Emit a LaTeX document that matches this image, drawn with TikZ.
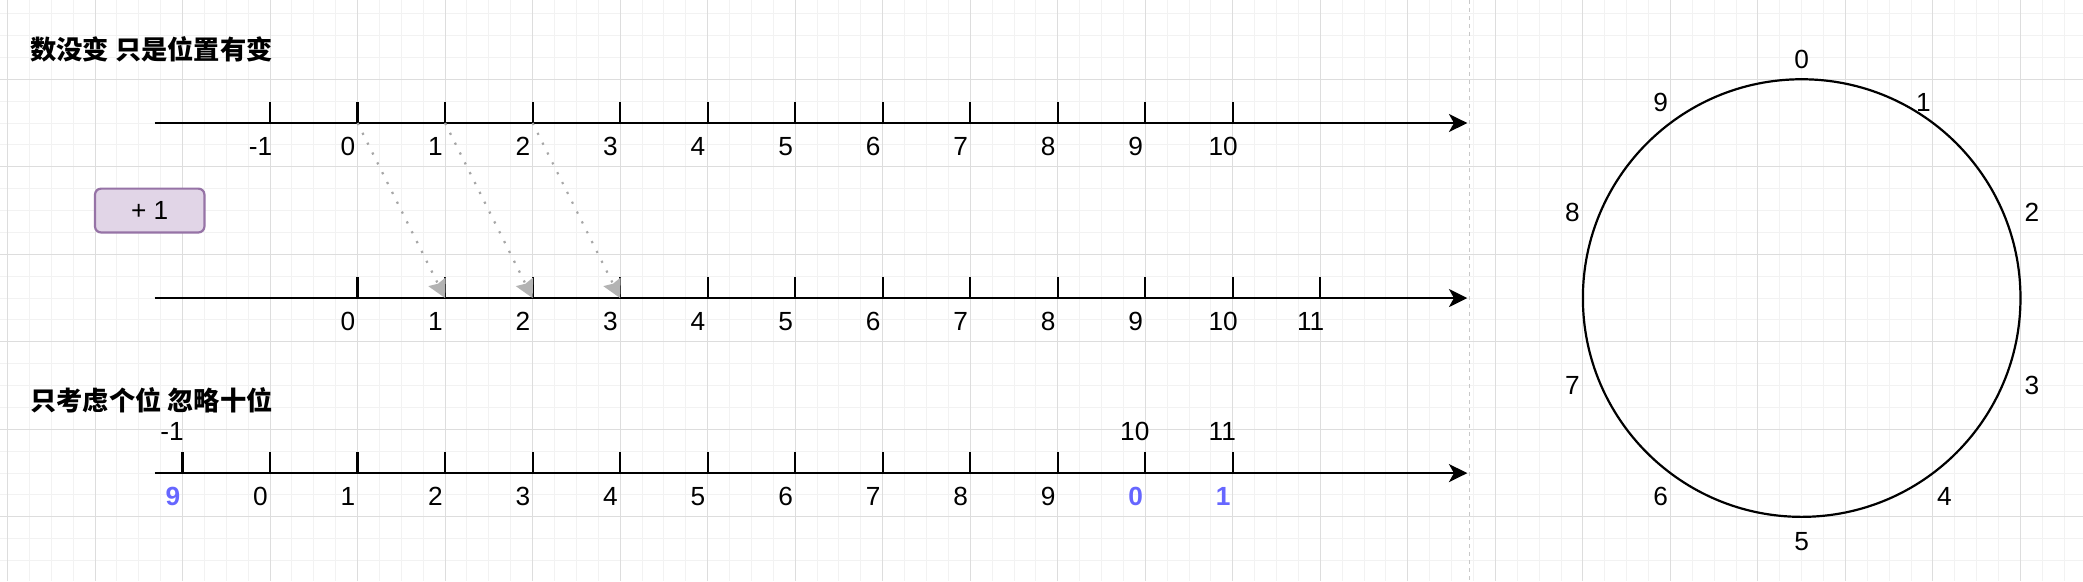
\documentclass[tikz,border=0pt]{standalone}
\usepackage{fontspec}
\setmainfont{Liberation Sans}
\newfontfamily\cjk{Noto Sans CJK SC}
\usetikzlibrary{arrows.meta,positioning,calc}

\definecolor{gridminor}{HTML}{F2F2F2}
\definecolor{gridmajor}{HTML}{DDDDDD}
\definecolor{plusfill}{HTML}{E1D5E7}
\definecolor{plusdraw}{HTML}{9673A6}
\definecolor{carryblue}{HTML}{6666FF}
\definecolor{movegray}{HTML}{A6A6A6}
\definecolor{tipgray}{HTML}{B3B3B3}
\definecolor{sepgray}{HTML}{C8C8C8}

\begin{document}
\begin{tikzpicture}[x=43.75pt,y=43.75pt,
    font=\fontsize{13.125}{15.75}\selectfont,
    numline/.style={line width=1.1pt,-{Stealth[length=9.2pt,width=9pt,inset=2.5pt]}},
    tickmark/.style={line width=1.1pt},
    lbl/.style={inner sep=0pt},
    carry/.style={text=carryblue,font=\fontsize{13.125}{15.75}\selectfont\bfseries},
    title/.style={inner sep=0pt,anchor=west,font=\fontsize{13.125}{15.75}\selectfont\cjk\bfseries},
    plusbox/.style={draw=plusdraw,fill=plusfill,line width=1.1pt,rounded corners=3pt,
                    minimum width=54.7pt,minimum height=21.9pt},
    move/.style={color=movegray,line width=1.1pt,dash pattern=on 1.1pt off 4.4pt,
                 -{Stealth[length=9pt,width=9.5pt,inset=1pt,color=tipgray]}},
    ring/.style={line width=1.1pt},
    divider/.style={draw=sepgray,line width=0.6pt,dash pattern=on 2pt off 2pt}]
  \useasboundingbox (-0.0857,-3.2343) rectangle (23.7143,3.4057);
  \fill[white] (-0.0857,-3.2343) rectangle (23.7143,3.4057);
  % grid
  \foreach \g in {-0.25,0,...,23.75}
    \draw[gridminor,line width=0.5pt] (\g,-3.2343) -- (\g,3.4057);
  \foreach \g in {-3.25,-3,...,3.5}
    \draw[gridminor,line width=0.5pt] (-0.0857,\g) -- (23.7143,\g);
  \foreach \g in {0,...,23}
    \draw[gridmajor,line width=0.5pt] (\g,-3.2343) -- (\g,3.4057);
  \foreach \g in {-2.5,-1.5,...,2.5}
    \draw[gridmajor,line width=0.5pt] (-0.0857,\g) -- (23.7143,\g);
  \coordinate (sep-t) at (16.7,3.4057);
  \coordinate (sep-b) at (16.7,-3.2343);
  \draw[divider] (sep-t) -- (sep-b);

  \node[title] (t_move) at (0.257,2.846) {数没变 只是位置有变};
  \node[title] (t_ones) at (0.257,-1.166) {只考虑个位 忽略十位};
  \node[plusbox] (plus) at (1.625,1) {+ 1};

  % top axis
  \coordinate (top-s) at (1.68,2);
  \coordinate (top-e) at (16.68,2);
  \draw[numline] (top-s) -- (top-e);
  \foreach \n [count=\i from 3] in {-1,...,10} {
    \coordinate (top\i) at (\i,2);
    \draw[tickmark] (top\i) -- ++(0,0.24);
    \node[lbl] (ltop\i) at ($(top\i)+(-0.11,-0.27)$) {\n};
  }
  % middle axis
  \coordinate (mid-s) at (1.68,0);
  \coordinate (mid-e) at (16.68,0);
  \draw[numline] (mid-s) -- (mid-e);
  \foreach \n [count=\i from 4] in {0,...,11} {
    \coordinate (mid\i) at (\i,0);
    \draw[tickmark] (mid\i) -- ++(0,0.24);
    \node[lbl] (lmid\i) at ($(mid\i)+(-0.11,-0.27)$) {\n};
  }
  \path[move]
    (top4) edge (mid5)
    (top5) edge (mid6)
    (top6) edge (mid7);

  % bottom axis
  \coordinate (bot-s) at (1.68,-2);
  \coordinate (bot-e) at (16.68,-2);
  \draw[numline] (bot-s) -- (bot-e);
  \foreach \i in {2,...,14} {
    \coordinate (bot\i) at (\i,-2);
    \draw[tickmark] (bot\i) -- ++(0,0.24);
  }
  \foreach \n [count=\i from 3] in {0,...,9}
    \node[lbl] (lbot\i) at ($(bot\i)+(-0.11,-0.27)$) {\n};
  \foreach \i/\n/\m in {2/9/-1,13/0/10,14/1/11} {
    \node[lbl,carry] (lbot\i) at ($(bot\i)+(-0.11,-0.27)$) {\n};
    \node[lbl] (up\i) at ($(bot\i)+(-0.12,0.48)$) {\m};
  }

  % clock
  \coordinate (clock) at (20.5,0);
  \draw[ring] (clock) circle[radius=2.5];
  \foreach \n/\dx/\dy in {0/0/2.73, 1/1.39/2.23, 2/2.63/0.98, 3/2.63/-1.0,
                          4/1.63/-2.27, 5/0/-2.78, 6/-1.61/-2.27, 7/-2.62/-1.0,
                          8/-2.62/0.98, 9/-1.61/2.23}
    \node[lbl] (h\n) at ($(clock)+(\dx,\dy)$) {\n};
\end{tikzpicture}
\end{document}
